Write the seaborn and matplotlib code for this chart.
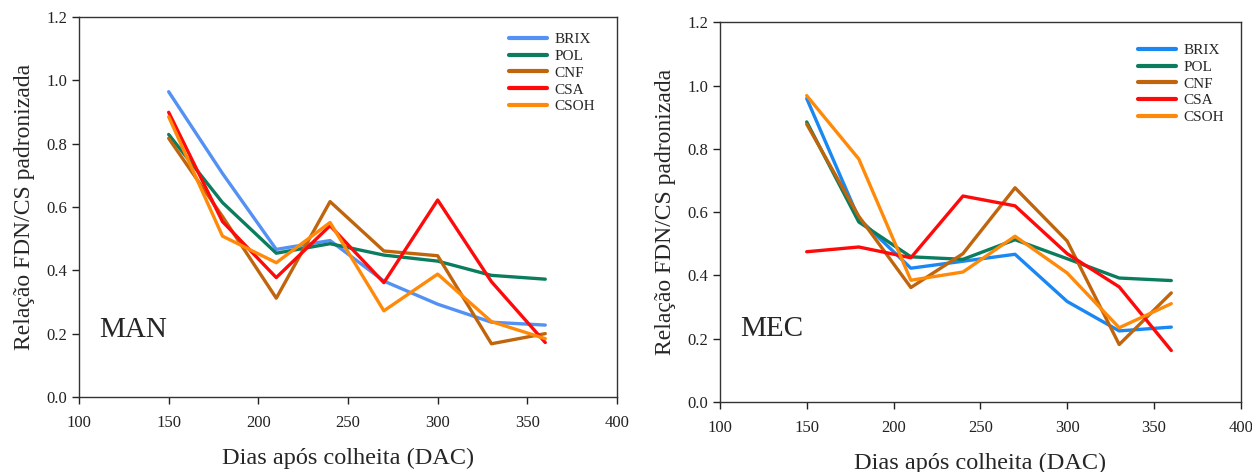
import matplotlib
matplotlib.use("Agg")
import matplotlib.pyplot as plt
import seaborn as sns
import pandas as pd

dias = [150, 180, 210, 240, 270, 300, 330, 360]
series_names = ["BRIX", "POL", "CNF", "CSA", "CSOH"]

man_brix = [0.964, 0.706, 0.466, 0.494, 0.366, 0.293, 0.236, 0.227]
man_pol = [0.829, 0.614, 0.454, 0.484, 0.448, 0.429, 0.384, 0.372]
man_cnf = [0.817, 0.570, 0.312, 0.617, 0.461, 0.446, 0.168, 0.200]
man_csa = [0.899, 0.554, 0.377, 0.541, 0.361, 0.622, 0.364, 0.172]
man_csoh = [0.885, 0.508, 0.424, 0.551, 0.272, 0.388, 0.238, 0.184]

mec_brix = [0.959, 0.580, 0.423, 0.445, 0.467, 0.318, 0.225, 0.237]
mec_pol = [0.885, 0.569, 0.459, 0.451, 0.513, 0.453, 0.392, 0.384]
mec_cnf = [0.878, 0.587, 0.362, 0.469, 0.677, 0.509, 0.182, 0.345]
mec_csa = [0.475, 0.490, 0.456, 0.651, 0.620, 0.469, 0.364, 0.163]
mec_csoh = [0.968, 0.768, 0.385, 0.411, 0.524, 0.408, 0.235, 0.311]

panel_labels = ["MAN", "MEC"]
xlabel = "Dias após colheita (DAC)"
ylabel = "Relação FDN/CS padronizada"

def long_df(vals):
    rows = []
    for name, v in zip(series_names, vals):
        for d, y in zip(dias, v):
            rows.append({"Dias": d, "Valor": y, "Serie": name})
    return pd.DataFrame(rows)

df_man = long_df([man_brix, man_pol, man_cnf, man_csa, man_csoh])
df_mec = long_df([mec_brix, mec_pol, mec_cnf, mec_csa, mec_csoh])

sns.set_style("white")
plt.rcParams["font.family"] = ["Liberation Serif", "DejaVu Serif"]

pal_man = {"BRIX": "#5391f5", "POL": "#0b7d5e", "CNF": "#c0650c", "CSA": "#ff0a0a", "CSOH": "#ff8a0a"}
pal_mec = {"BRIX": "#1a88f2", "POL": "#0b7d5e", "CNF": "#c0650c", "CSA": "#ff0a0a", "CSOH": "#ff8a0a"}

fig = plt.figure(figsize=(12.52, 4.72), dpi=100)
ax1 = fig.add_axes([0.0631, 0.159, 0.4297, 0.805])
ax2 = fig.add_axes([0.575, 0.148, 0.416, 0.805])

for ax, df, pal, lab, ty, anchor in [
        (ax1, df_man, pal_man, panel_labels[0], 0.21, (0.985, 0.995)),
        (ax2, df_mec, pal_mec, panel_labels[1], 0.23, (0.995, 0.98))]:
    sns.lineplot(data=df, x="Dias", y="Valor", hue="Serie", palette=pal,
                 hue_order=series_names, ax=ax, linewidth=2.4, legend=True)
    ax.set_xlim(100, 400)
    ax.set_ylim(0, 1.2)
    ax.set_xticks([100, 150, 200, 250, 300, 350, 400])
    ax.set_yticks([0.0, 0.2, 0.4, 0.6, 0.8, 1.0, 1.2])
    ax.set_yticklabels([f"{v:.1f}" for v in [0.0, 0.2, 0.4, 0.6, 0.8, 1.0, 1.2]])
    ax.tick_params(direction="out", length=5, width=1, labelsize=12,
                   bottom=True, left=True, colors="#222222")
    ax.tick_params(axis="x", pad=8)
    for s in ax.spines.values():
        s.set_color("#333333")
        s.set_linewidth(1.0)
    ax.set_xlabel(xlabel, fontsize=17.5, labelpad=12)
    ax.set_ylabel(ylabel, fontsize=17, labelpad=8)
    ax.text(111.5, ty, lab, fontsize=21, va="center", ha="left")
    leg = ax.legend(loc="upper right", frameon=False, fontsize=11,
                    handlelength=2.5, labelspacing=0.2, handletextpad=0.5,
                    bbox_to_anchor=anchor)
    for h in leg.get_lines():
        h.set_linewidth(3)

fig.savefig("out.png", dpi=100)
